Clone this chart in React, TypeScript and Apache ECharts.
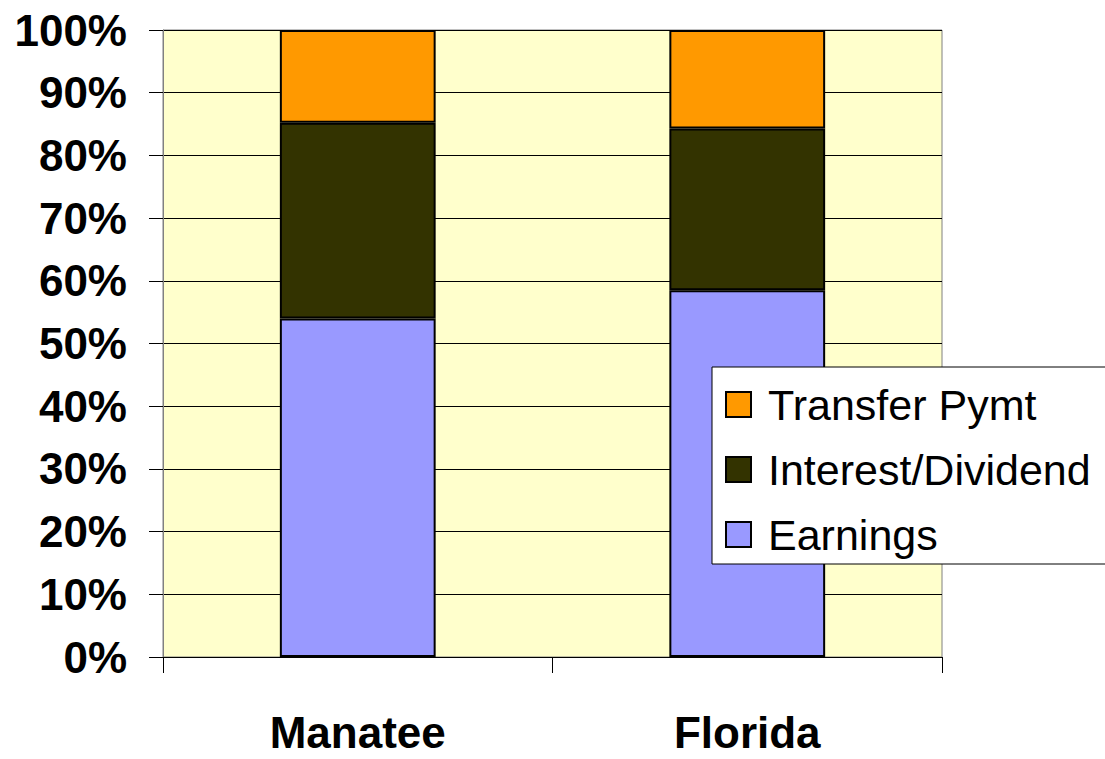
import React, { useEffect, useRef } from "react";
import * as echarts from "echarts";

const categories = ["Manatee", "Florida"];
const earnings = [54.0, 58.5];
const interestDividend = [31.2, 25.8];
const transferPymt = [14.8, 15.7];
const legendOrder = ["Transfer Pymt", "Interest/Dividend", "Earnings"];

const FONT = 'Arial, "Liberation Sans", sans-serif';

export default function App() {
  const ref = useRef<HTMLDivElement>(null);
  useEffect(() => {
    if (!ref.current) return;
    const chart = echarts.init(ref.current, null, { renderer: "svg" });
    const barCommon = {
      type: "bar",
      stack: "total",
      barWidth: "40%",
      itemStyle: { borderColor: "#000", borderWidth: 2 },
    };
    chart.setOption({
      animation: false,
      backgroundColor: "#ffffff",
      grid: {
        left: 163,
        right: 163,
        top: 30,
        bottom: 102,
        show: true,
        backgroundColor: "#FFFFCC",
        borderColor: "#808080",
        borderWidth: 1,
      },
      legend: {
        data: legendOrder,
        orient: "vertical",
        left: 712,
        top: 367,
        width: 500,
        itemWidth: 25,
        itemHeight: 25,
        itemGap: 22,
        icon: "rect",
        padding: [16, 40, 8, 13],
        backgroundColor: "#ffffff",
        borderColor: "#000",
        borderWidth: 1,
        selectedMode: false,
        textStyle: {
          fontFamily: FONT,
          fontSize: 43,
          color: "#000",
          padding: [0, 0, 0, 12],
        },
      },
      xAxis: {
        type: "category",
        data: categories,
        axisLine: { show: true, lineStyle: { color: "#000", width: 1 } },
        axisTick: { show: true, length: 16, lineStyle: { color: "#000" } },
        axisLabel: {
          fontFamily: FONT,
          fontSize: 44,
          fontWeight: "bold",
          color: "#000",
          margin: 53,
        },
        splitLine: { show: false },
      },
      yAxis: {
        type: "value",
        min: 0,
        max: 100,
        interval: 10,
        axisLine: { show: true, lineStyle: { color: "#808080", width: 1 } },
        axisTick: { show: true, length: 14, lineStyle: { color: "#000" } },
        axisLabel: {
          formatter: "{value}%",
          fontFamily: FONT,
          fontSize: 44,
          fontWeight: "bold",
          color: "#000",
          margin: 36,
        },
        splitLine: { show: true, lineStyle: { color: "#000", width: 1 } },
      },
      series: [
        { ...barCommon, name: "Earnings", data: earnings, itemStyle: { ...barCommon.itemStyle, color: "#9999FF" } },
        { ...barCommon, name: "Interest/Dividend", data: interestDividend, itemStyle: { ...barCommon.itemStyle, color: "#333300" } },
        { ...barCommon, name: "Transfer Pymt", data: transferPymt, itemStyle: { ...barCommon.itemStyle, color: "#FF9900" } },
      ],
    });
    return () => chart.dispose();
  }, []);
  return (
    <div
      ref={ref}
      style={{ position: "fixed", left: 0, top: 0, width: 1105, height: 759 }}
    />
  );
}
